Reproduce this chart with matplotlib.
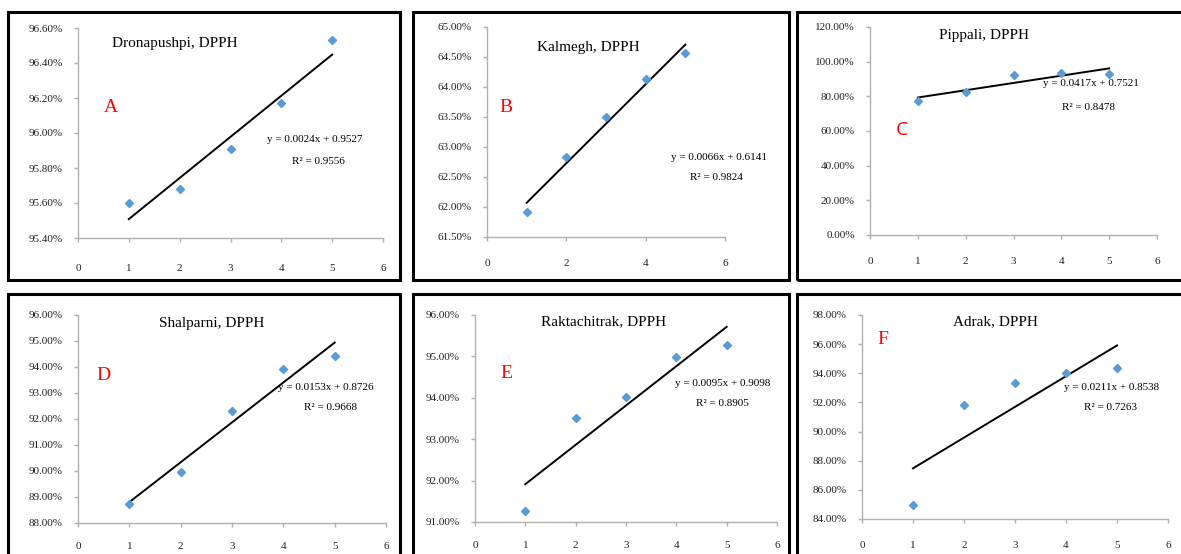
import matplotlib
matplotlib.use("Agg")
import matplotlib.pyplot as plt
import numpy as np
from matplotlib.patches import Rectangle

# data (values in %)
x_vals = [1, 2, 3, 4, 5]
dronapushpi = [95.60, 95.68, 95.91, 96.17, 96.53]
kalmegh = [61.91, 62.84, 63.50, 64.13, 64.56]
pippali = [77.3, 82.6, 92.4, 93.4, 92.9]
shalparni = [88.74, 89.96, 92.30, 93.92, 94.43]
raktachitrak = [91.26, 93.52, 94.03, 94.98, 95.28]
adrak = [84.94, 91.82, 93.32, 94.00, 94.39]

titles = ["Dronapushpi, DPPH", "Kalmegh, DPPH", "Pippali, DPPH",
          "Shalparni, DPPH", "Raktachitrak, DPPH", "Adrak, DPPH"]
letters = ["A", "B", "C", "D", "E", "F"]
equations = ["y = 0.0024x + 0.9527", "y = 0.0066x + 0.6141", "y = 0.0417x + 0.7521",
             "y = 0.0153x + 0.8726", "y = 0.0095x + 0.9098", "y = 0.0211x + 0.8538"]
r_squared = ["R² = 0.9556", "R² = 0.9824", "R² = 0.8478",
             "R² = 0.9668", "R² = 0.8905", "R² = 0.7263"]
y_ticks = [np.arange(95.4, 96.61, 0.2), np.arange(61.5, 65.01, 0.5), np.arange(0, 121, 20),
           np.arange(88, 96.1, 1), np.arange(91, 96.1, 1), np.arange(84, 98.1, 2)]
x_steps = [1, 2, 1, 1, 1, 1]

series = [dronapushpi, kalmegh, pippali, shalparni, raktachitrak, adrak]

W, H = 1181, 554
fig = plt.figure(figsize=(W / 100, H / 100), dpi=100)

# layout in pixels
frames = [(7.5, 11.5, 400, 279.5), (412.5, 11.5, 789, 279.5), (796.5, 11.5, 1190, 279.5),
          (7.5, 293.5, 400, 570), (412.5, 293.5, 789, 570), (796.5, 293.5, 1190, 570)]
axes_px = [(78, 28, 383, 238), (487, 27, 725, 237), (870, 27, 1157, 235),
           (78, 315, 386, 523), (475, 315, 777, 522), (862, 315, 1168, 519)]
title_px = [(175, 43), (588, 47), (984, 36), (212, 323), (604, 322), (995, 322)]
letter_px = [(111, 107), (506, 107), (902, 130), (103, 375), (506, 374), (883, 340)]
eq_px = [(315, 140), (719, 157), (1091, 83), (326, 387), (723, 384), (1112, 387)]
r2_px = [(318, 162), (716, 177), (1088, 107), (331, 407), (722, 404), (1111, 407)]
xpad = [16, 13, 13, 11, 11, 13]

serif = "Liberation Serif"
grey = "#b0b0b0"

for i in range(6):
    fx0, fy0, fx1, fy1 = frames[i]
    fig.add_artist(Rectangle((fx0 / W, 1 - fy1 / H), (fx1 - fx0) / W, (fy1 - fy0) / H,
                             transform=fig.transFigure, fill=False, ec="black", lw=2.2))

    x0, yt, x1, yb = axes_px[i]
    ax = fig.add_axes([x0 / W, 1 - yb / H, (x1 - x0) / W, (yb - yt) / H])
    y = series[i]
    ax.plot(x_vals, y, "D", color="#5b9bd5", ms=4.5, zorder=3)
    coef = np.polyfit(x_vals, y, 1)
    ax.plot(x_vals, np.polyval(coef, x_vals), color="black", lw=1.4, zorder=2)

    yt_ = y_ticks[i]
    ax.set_ylim(yt_[0], yt_[-1])
    ax.set_yticks(yt_)
    ax.set_yticklabels([f"{v:.2f}%" for v in yt_])
    ax.set_xlim(0, 6)
    ax.set_xticks(np.arange(0, 7, x_steps[i]))

    for s in ["top", "right"]:
        ax.spines[s].set_visible(False)
    for s in ["left", "bottom"]:
        ax.spines[s].set_color(grey)
        ax.spines[s].set_linewidth(1)
    ax.tick_params(axis="both", color=grey, length=3, width=1, labelsize=8,
                   labelcolor="#222222")
    ax.tick_params(axis="y", pad=8)
    ax.tick_params(axis="x", pad=xpad[i])
    for lab in ax.get_xticklabels() + ax.get_yticklabels():
        lab.set_fontfamily(serif)

    tx, ty = title_px[i]
    fig.text(tx / W, 1 - ty / H, titles[i], family=serif, fontsize=11,
             ha="center", va="center")
    lx, ly = letter_px[i]
    fig.text(lx / W, 1 - ly / H, letters[i], color="red", fontsize=14,
             family="Open Sans" if letters[i] == "C" else serif,
             ha="center", va="center")
    ex, ey = eq_px[i]
    fig.text(ex / W, 1 - ey / H, equations[i], family=serif, fontsize=8,
             ha="center", va="center")
    rx, ry = r2_px[i]
    fig.text(rx / W, 1 - ry / H, r_squared[i], family=serif, fontsize=8,
             ha="center", va="center")

fig.savefig("out.png", dpi=100)
